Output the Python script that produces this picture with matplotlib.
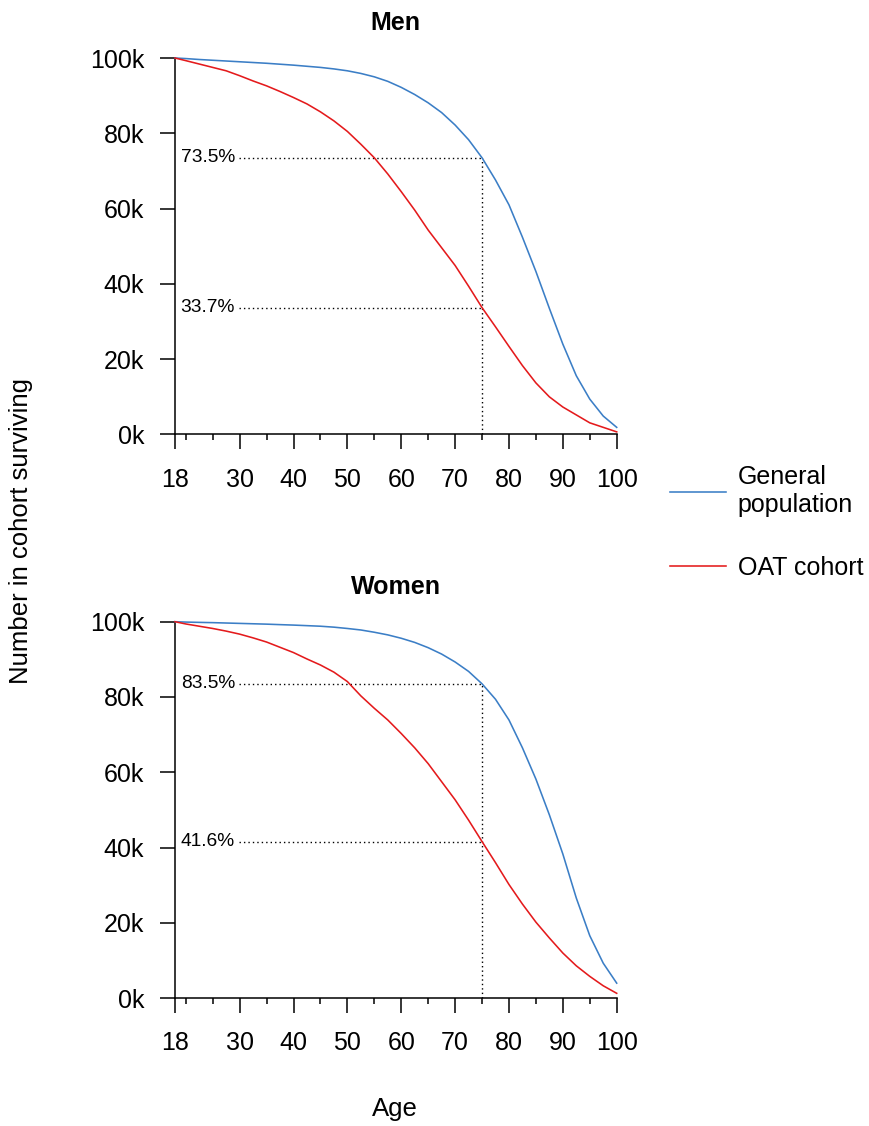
"""Survival from age 18: general population vs OAT cohort, men and women."""
import matplotlib
matplotlib.use("Agg")
import matplotlib.pyplot as plt

plt.rcParams["font.family"] = ["Liberation Sans", "DejaVu Sans"]

BLUE, RED, INK = "#3b7ec6", "#e41a1c", "#000000"

# survivors per 100k alive at 18 (thousands)
ages = [18, 20, 22.5, 25, 27.5, 30, 32.5, 35, 37.5, 40, 42.5, 45, 47.5, 50,
        52.5, 55, 57.5, 60, 62.5, 65, 67.5, 70, 72.5, 75, 77.5, 80, 82.5, 85,
        87.5, 90, 92.5, 95, 97.5, 100]
men_general = [100, 99.85, 99.6, 99.4, 99.2, 99.0, 98.8, 98.6, 98.35, 98.1,
               97.8, 97.5, 97.1, 96.6, 95.9, 95.0, 93.8, 92.2, 90.3, 88.1,
               85.5, 82.2, 78.3, 73.5, 67.6, 61.0, 52.4, 43.3, 33.5, 24.0,
               15.6, 9.4, 4.9, 1.9]
men_oat = [100, 99.3, 98.4, 97.5, 96.6, 95.3, 93.9, 92.6, 91.1, 89.5, 87.8,
           85.7, 83.3, 80.5, 77.1, 73.5, 69.2, 64.5, 59.6, 54.3, 49.6, 44.9,
           39.4, 33.7, 28.6, 23.4, 18.3, 13.7, 10.0, 7.3, 5.2, 3.1, 1.9, 0.7]
women_general = [100, 99.9, 99.82, 99.75, 99.65, 99.55, 99.45, 99.35, 99.22,
                 99.1, 98.95, 98.8, 98.55, 98.2, 97.8, 97.2, 96.5, 95.6, 94.5,
                 93.1, 91.4, 89.3, 86.8, 83.5, 79.4, 73.9, 66.5, 58.2, 48.7,
                 38.3, 26.6, 16.6, 9.3, 4.0]
women_oat = [100, 99.4, 98.8, 98.2, 97.5, 96.7, 95.7, 94.6, 93.2, 91.8, 90.1,
             88.5, 86.6, 84.1, 80.3, 77.0, 73.9, 70.3, 66.5, 62.3, 57.5, 52.7,
             47.3, 41.6, 36.0, 30.2, 25.0, 20.2, 16.0, 12.0, 8.6, 5.8, 3.3, 1.3]

MARK_AGE = 75
men_marks = [73.5, 33.7]
women_marks = [83.5, 41.6]

major_ages = [18, 30, 40, 50, 60, 70, 80, 90, 100]
minor_ages = [20, 25, 35, 45, 55, 65, 75, 85, 95]
y_ticks = [0, 20, 40, 60, 80, 100]

LABEL_END = 29.8          # where the dotted guide starts, right of its label

panels = [("Men", men_general, men_oat, men_marks),
          ("Women", women_general, women_oat, women_marks)]

fig = plt.figure(figsize=(8.69, 11.26), dpi=100)
W, H = 869.0, 1126.0
boxes = [(175/W, 1-434.5/H, 441.7/W, 376.5/H),
         (175/W, 1-998.2/H, 441.7/W, 376.5/H)]

for (name, general, oat, marks), box in zip(panels, boxes):
    ax = fig.add_axes(box)
    ax.plot(ages, general, color=BLUE, lw=1.15, clip_on=False, zorder=3,
            label="General\npopulation")
    ax.plot(ages, oat, color=RED, lw=1.15, clip_on=False, zorder=3,
            label="OAT cohort")
    for value in marks:
        ax.hlines(value, LABEL_END, MARK_AGE, color=INK, lw=1.0,
                  linestyle=(0, (1, 2.2)), zorder=2)
        ax.text(19.05, value, f"{value:.1f}%", va="center", ha="left",
                fontsize=13.8)
    ax.vlines(MARK_AGE, 0, max(marks), color=INK, lw=1.0,
              linestyle=(0, (1, 2.2)), zorder=2)
    ax.set_xlim(18, 100)
    ax.set_ylim(0, 100)
    ax.set_xticks(major_ages)
    ax.set_xticks(minor_ages, minor=True)
    ax.set_yticks(y_ticks)
    ax.set_yticklabels([f"{v}k" for v in y_ticks])
    ax.tick_params(axis="both", which="major", length=10.8, width=1.1,
                   labelsize=18)
    ax.tick_params(axis="x", which="major", pad=13)
    ax.tick_params(axis="y", which="major", pad=11.5)
    ax.tick_params(axis="x", which="minor", length=4, width=1.1)
    ax.spines[["top", "right"]].set_visible(False)
    ax.spines[["left", "bottom"]].set_linewidth(1.1)
    ax.set_title(name, fontweight="bold", fontsize=18, pad=20)
    if name == "Men":
        handles, labels = ax.get_legend_handles_labels()

fig.legend(handles, labels, loc="center left",
           bbox_to_anchor=(670/W, 1-522.5/H), frameon=False, fontsize=18,
           handlelength=2.25, handletextpad=0.45, labelspacing=1.57,
           borderpad=0, borderaxespad=0)
fig.text(21/W, 1-531/H, "Number in cohort surviving", rotation=90,
         ha="center", va="center", fontsize=18.5)
fig.text(395/W, 1-1109/H, "Age", ha="center", va="center", fontsize=18.5)

fig.savefig("out.png", dpi=100)
